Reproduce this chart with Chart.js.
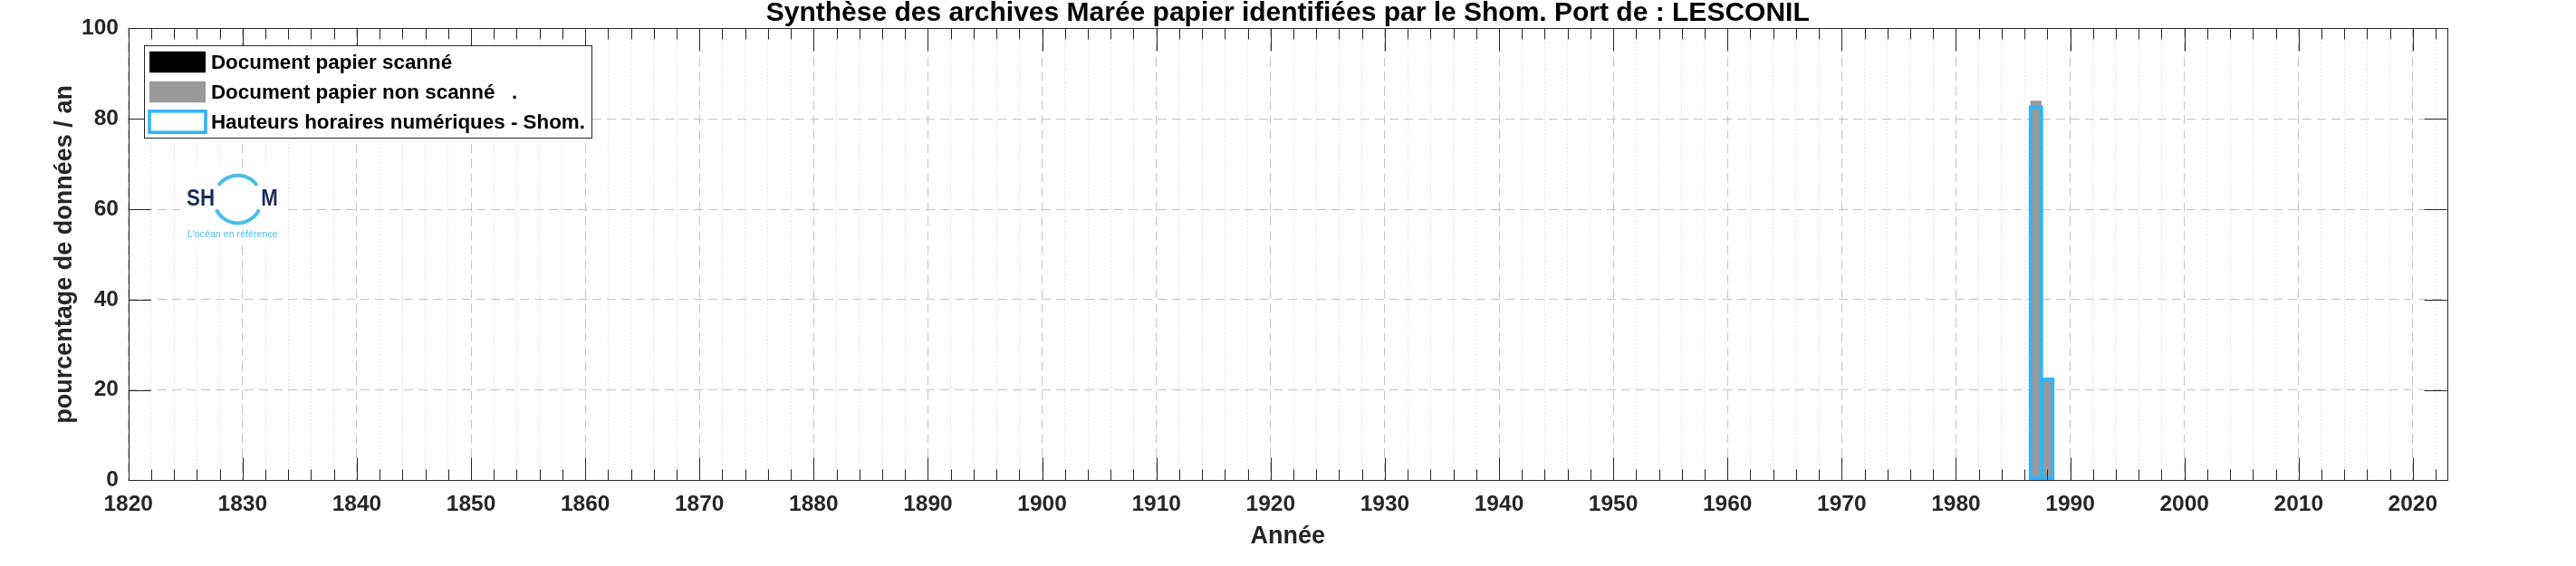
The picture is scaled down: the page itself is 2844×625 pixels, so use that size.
<!DOCTYPE html>
<html lang="fr">
<head>
<meta charset="utf-8">
<title>Synthèse des archives Marée papier - LESCONIL</title>
<script src="https://cdn.jsdelivr.net/npm/chart.js@4.4.1/dist/chart.umd.min.js"></script>
<style>
  html, body { margin: 0; padding: 0; background: #fff; }
  #wrap { width: 2844px; height: 625px; }
</style>
</head>
<body>
<div id="wrap"><canvas id="chart" width="2844" height="625"></canvas></div>
<script>
// ============================================
// DONNEES
// ============================================

const years = [1987, 1988];
const scannedPct = [null, null];        // document papier scanné
const notScannedPct = [84, 22.5];       // document papier non scanné
const numericPct = [83, 22.8];          // hauteurs horaires numériques

const seriesLabels = [
    'Document papier scanné',
    'Document papier non scanné   .',
    'Hauteurs horaires numériques - Shom.'
];
const seriesColors = ['#000000', '#999999', '#33b3ff'];

const yearMin = 1820;
const yearMax = 2023;
const yearStep = 2;
const yearLabelEvery = 10;
const pctTicks = [0, 20, 40, 60, 80, 100];

const titleText = 'Synthèse des archives Marée papier identifiées par le Shom. Port de : LESCONIL';
const xTitle = 'Année';
const yTitle = 'pourcentage de données / an';
const logoName = ['SH', 'M'];
const logoTagline = "L'océan en référence";

const FONT = '"Liberation Sans", Arial, Helvetica, sans-serif';
const AXIS_COLOR = '#262626';
const GRID_COLOR = '#c4c4c4';
const MINOR_GRID_COLOR = '#cdcdcd';

Chart.defaults.font.family = FONT;

function toPoints(values) {
    return years.map((yr, i) => ({ x: yr, y: values[i] }));
}

function isMajorYear(v) {
    return v % yearLabelEvery === 0;
}

// valeur du tick dans un contexte scriptable (peut être absent)
function tickValue(c) {
    return c && c.tick ? c.tick.value : null;
}

// ============================================
// PLUGINS
// ============================================

// titre centré sur la zone des axes (comme matlab)
const axesTitle = {
    id: 'axesTitle',
    afterDraw(chart) {
        const { ctx, chartArea: a } = chart;
        ctx.save();
        ctx.font = 'bold 30px ' + FONT;
        ctx.fillStyle = '#000000';
        ctx.textAlign = 'center';
        ctx.textBaseline = 'middle';
        ctx.fillText(titleText, (a.left + a.right) / 2, a.top - 16.4);
        ctx.restore();
    }
};

// libellés de l'axe Y (graduations + titre), placés contre la zone du graphique
const yAxisText = {
    id: 'yAxisText',
    afterDraw(chart) {
        const { ctx, chartArea: a, scales: { y } } = chart;
        ctx.save();
        ctx.fillStyle = AXIS_COLOR;
        ctx.font = 'bold 24.5px ' + FONT;
        ctx.textAlign = 'right';
        ctx.textBaseline = 'middle';
        y.ticks.forEach(t => {
            ctx.fillText(String(t.value), a.left - 10.7, y.getPixelForValue(t.value));
        });
        ctx.font = 'bold 27px ' + FONT;
        ctx.textAlign = 'center';
        ctx.translate(a.left - 70, (a.top + a.bottom) / 2);
        ctx.rotate(-Math.PI / 2);
        ctx.fillText(yTitle, 0, 0);
        ctx.restore();
    }
};

// logo Shom (dessiné sur fond blanc)
const shomLogo = {
    id: 'shomLogo',
    afterDatasetsDraw(chart) {
        const { ctx, chartArea: a } = chart;
        const ox = a.left, oy = a.top;
        ctx.save();
        ctx.fillStyle = '#ffffff';
        ctx.fillRect(ox + 57.3, oy + 154.6, 113, 84);

        ctx.fillStyle = '#1c2b5a';
        ctx.font = 'bold 26px ' + FONT;
        ctx.textBaseline = 'alphabetic';
        ctx.textAlign = 'left';
        ctx.fillText(logoName[0], ox + 64.3, oy + 195.3, 31);
        ctx.fillText(logoName[1], ox + 146.6, oy + 195.3, 18.5);

        ctx.strokeStyle = '#4cbde9';
        ctx.lineWidth = 4;
        const cx = ox + 120.8, cy = oy + 188.6, r = 26.3;
        ctx.beginPath();
        ctx.arc(cx, cy, r, Math.PI + 0.62, 2 * Math.PI - 0.62);
        ctx.stroke();
        ctx.beginPath();
        ctx.arc(cx, cy, r, 0.45, Math.PI - 0.45);
        ctx.stroke();

        ctx.fillStyle = '#4cbde9';
        ctx.font = '10.7px ' + FONT;
        ctx.textBaseline = 'middle';
        ctx.fillText(logoTagline, ox + 65, oy + 227.9, 100);
        ctx.restore();
    }
};

// cadre + graduations vers l'intérieur (style matlab)
const axesBox = {
    id: 'axesBox',
    afterDatasetsDraw(chart) {
        const { ctx, chartArea: a, scales: { x, y } } = chart;
        ctx.save();
        ctx.strokeStyle = AXIS_COLOR;
        ctx.lineWidth = 1;
        ctx.beginPath();
        x.ticks.forEach(t => {
            const px = Math.round(x.getPixelForValue(t.value)) + 0.5;
            const len = isMajorYear(t.value) ? 25 : 12;
            ctx.moveTo(px, a.bottom);
            ctx.lineTo(px, a.bottom - len);
            ctx.moveTo(px, a.top);
            ctx.lineTo(px, a.top + len);
        });
        y.ticks.forEach(t => {
            const py = Math.round(y.getPixelForValue(t.value)) + 0.5;
            ctx.moveTo(a.left, py);
            ctx.lineTo(a.left + 25, py);
            ctx.moveTo(a.right, py);
            ctx.lineTo(a.right - 25, py);
        });
        ctx.stroke();
        ctx.strokeRect(Math.round(a.left) + 0.5, Math.round(a.top) + 0.5,
                       Math.round(a.right - a.left), Math.round(a.bottom - a.top));
        ctx.restore();
    }
};

// légende encadrée dans la zone du graphique
const boxLegend = {
    id: 'boxLegend',
    afterDraw(chart) {
        const { ctx, chartArea: a } = chart;
        const bx = a.left + 17.6, by = a.top + 19, bw = 494, bh = 101.7;
        ctx.save();
        ctx.fillStyle = '#ffffff';
        ctx.fillRect(bx, by, bw, bh);
        ctx.strokeStyle = AXIS_COLOR;
        ctx.lineWidth = 1;
        ctx.strokeRect(Math.round(bx) + 0.5, Math.round(by) + 0.5, Math.round(bw), Math.round(bh));

        ctx.font = 'bold 22.4px ' + FONT;
        ctx.textBaseline = 'middle';
        ctx.textAlign = 'left';
        chart.data.datasets.forEach((ds, i) => {
            const sx = bx + 5.7, sy = by + 6.4 + i * 33, sw = 62, sh = 23.4;
            if (ds.borderWidth > 0) {
                ctx.fillStyle = '#ffffff';
                ctx.fillRect(sx, sy, sw, sh);
                ctx.strokeStyle = ds.borderColor;
                ctx.lineWidth = 3.6;
                ctx.strokeRect(sx, sy, sw, sh);
            } else {
                ctx.fillStyle = ds.backgroundColor;
                ctx.fillRect(sx, sy, sw, sh);
            }
            ctx.fillStyle = '#000000';
            ctx.fillText(ds.label, bx + 73.6, sy + sh / 2 + 1);
        });
        ctx.restore();
    }
};

// ============================================
// CHART
// ============================================

const ctx = document.getElementById('chart').getContext('2d');

new Chart(ctx, {
    type: 'bar',
    data: {
        datasets: [
            {
                label: seriesLabels[0],
                data: toPoints(scannedPct),
                backgroundColor: seriesColors[0],
                borderWidth: 0,
                grouped: false,
                barPercentage: 0.98,
                categoryPercentage: 1,
                inflateAmount: 0,
                order: 3
            },
            {
                label: seriesLabels[1],
                data: toPoints(notScannedPct),
                backgroundColor: seriesColors[1],
                borderWidth: 0,
                grouped: false,
                barPercentage: 0.98,
                categoryPercentage: 1,
                inflateAmount: 0,
                order: 2
            },
            {
                label: seriesLabels[2],
                data: toPoints(numericPct),
                backgroundColor: 'rgba(0,0,0,0)',
                borderColor: seriesColors[2],
                borderWidth: 4,
                borderSkipped: false,
                grouped: false,
                barPercentage: 1.29,
                categoryPercentage: 1,
                inflateAmount: 0,
                order: 1
            }
        ]
    },
    options: {
        responsive: false,
        animation: false,
        events: [],
        layout: {
            padding: { left: 141.7, right: 142.3, top: 31.4, bottom: 0 }
        },
        plugins: {
            legend: { display: false },
            tooltip: { enabled: false },
            title: { display: false }
        },
        scales: {
            x: {
                type: 'linear',
                offset: false,
                min: yearMin,
                max: yearMax,
                afterFit: scale => {
                    scale.height = 94.6;
                    scale.paddingLeft = 0;
                    scale.paddingRight = 0;
                },
                ticks: {
                    stepSize: yearStep,
                    includeBounds: false,
                    autoSkip: false,
                    maxRotation: 0,
                    minRotation: 0,
                    padding: 12.4,
                    color: AXIS_COLOR,
                    font: { size: 24.5, weight: 'bold' },
                    callback: v => isMajorYear(v) ? String(v) : ''
                },
                grid: {
                    offset: false,
                    drawTicks: false,
                    lineWidth: 1,
                    color: c => isMajorYear(tickValue(c)) ? GRID_COLOR : MINOR_GRID_COLOR
                },
                border: {
                    display: false,
                    dash: c => isMajorYear(tickValue(c)) ? [10, 6] : [1, 3]
                },
                title: {
                    display: true,
                    text: xTitle,
                    color: AXIS_COLOR,
                    font: { size: 27, weight: 'bold', lineHeight: 1.2 },
                    padding: { top: 0, bottom: 16.3 }
                }
            },
            y: {
                min: pctTicks[0],
                max: pctTicks[pctTicks.length - 1],
                afterFit: scale => {
                    scale.width = 0;
                    scale.paddingTop = 0;
                    scale.paddingBottom = 0;
                },
                afterBuildTicks: scale => { scale.ticks = pctTicks.map(v => ({ value: v })); },
                ticks: { display: false },
                grid: {
                    drawTicks: false,
                    lineWidth: 1,
                    color: c => {
                        const v = tickValue(c);
                        return (v === pctTicks[0] || v === pctTicks[pctTicks.length - 1]) ? 'rgba(0,0,0,0)' : GRID_COLOR;
                    }
                },
                border: {
                    display: false,
                    dash: [10, 6]
                },
                title: { display: false }
            }
        }
    },
    plugins: [shomLogo, axesBox, boxLegend, axesTitle, yAxisText]
});
</script>
</body>
</html>
